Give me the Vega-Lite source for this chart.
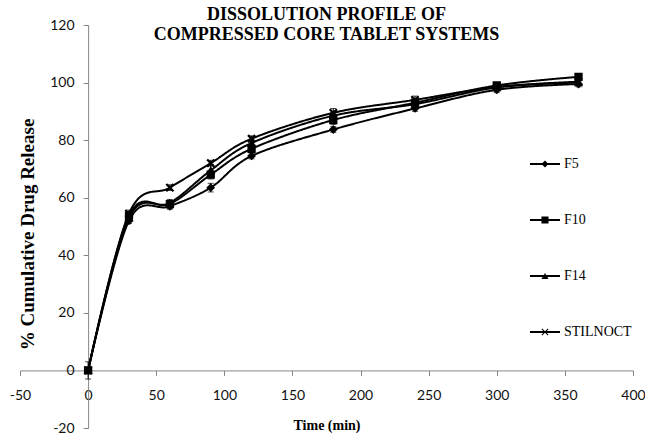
{
  "$schema": "https://vega.github.io/schema/vega-lite/v6.json",
  "width": 613,
  "height": 403,
  "autosize": {"type": "none"},
  "padding": {"left": 20, "top": 25, "right": 12, "bottom": 8},
  "background": "white",
  "config": {
    "view": {"stroke": null},
    "font": "Lato"
  },
  "title": {
    "text": ["DISSOLUTION PROFILE OF", "COMPRESSED CORE TABLET SYSTEMS"],
    "font": "Liberation Serif",
    "fontSize": 18,
    "fontWeight": "bold",
    "color": "black",
    "anchor": "middle",
    "lineHeight": 20,
    "offset": -26
  },
  "data": {
    "values": [
      {"time": 0, "series": "F5", "release": 0, "sd": 1.0},
      {"time": 30, "series": "F5", "release": 52.0, "sd": 1.0},
      {"time": 60, "series": "F5", "release": 57.0, "sd": 1.0},
      {"time": 90, "series": "F5", "release": 63.5, "sd": 1.5},
      {"time": 120, "series": "F5", "release": 74.5, "sd": 1.0},
      {"time": 180, "series": "F5", "release": 83.7, "sd": 1.0},
      {"time": 240, "series": "F5", "release": 91.0, "sd": 1.0},
      {"time": 300, "series": "F5", "release": 97.5, "sd": 1.0},
      {"time": 360, "series": "F5", "release": 99.5, "sd": 1.0},
      {"time": 0, "series": "F10", "release": 0, "sd": 0.5},
      {"time": 30, "series": "F10", "release": 53.8, "sd": 1.2},
      {"time": 60, "series": "F10", "release": 57.8, "sd": 1.5},
      {"time": 90, "series": "F10", "release": 68.0, "sd": 1.5},
      {"time": 120, "series": "F10", "release": 77.0, "sd": 1.0},
      {"time": 180, "series": "F10", "release": 87.0, "sd": 1.5},
      {"time": 240, "series": "F10", "release": 93.0, "sd": 1.0},
      {"time": 300, "series": "F10", "release": 99.0, "sd": 0.8},
      {"time": 360, "series": "F10", "release": 102.0, "sd": 1.0},
      {"time": 0, "series": "F14", "release": 0, "sd": 0.5},
      {"time": 30, "series": "F14", "release": 53.0, "sd": 1.0},
      {"time": 60, "series": "F14", "release": 58.2, "sd": 1.0},
      {"time": 90, "series": "F14", "release": 69.5, "sd": 2.0},
      {"time": 120, "series": "F14", "release": 79.0, "sd": 1.2},
      {"time": 180, "series": "F14", "release": 88.5, "sd": 1.0},
      {"time": 240, "series": "F14", "release": 92.5, "sd": 1.0},
      {"time": 300, "series": "F14", "release": 98.3, "sd": 1.0},
      {"time": 360, "series": "F14", "release": 100.0, "sd": 1.0},
      {"time": 0, "series": "STILNOCT", "release": 0, "sd": 3.0},
      {"time": 30, "series": "STILNOCT", "release": 54.5, "sd": 1.2},
      {"time": 60, "series": "STILNOCT", "release": 63.5, "sd": 1.0},
      {"time": 90, "series": "STILNOCT", "release": 72.0, "sd": 1.0},
      {"time": 120, "series": "STILNOCT", "release": 80.5, "sd": 1.0},
      {"time": 180, "series": "STILNOCT", "release": 89.5, "sd": 1.5},
      {"time": 240, "series": "STILNOCT", "release": 94.0, "sd": 1.3},
      {"time": 300, "series": "STILNOCT", "release": 98.5, "sd": 1.0},
      {"time": 360, "series": "STILNOCT", "release": 100.3, "sd": 0.8}
    ]
  },
  "encoding": {
    "x": {
      "field": "time",
      "type": "quantitative",
      "scale": {"domain": [-50, 400], "nice": false, "zero": false},
      "axis": {
        "title": "Time (min)",
        "values": [-50, 0, 50, 100, 150, 200, 250, 300, 350, 400],
        "labelExpr": "datum.value < 0 ? '-' + abs(datum.value) : '' + datum.value",
        "offset": {"expr": "scale('y', 0) - height"},
        "grid": false,
        "domainColor": "#868686",
        "tickColor": "#868686",
        "tickSize": 5,
        "labelFont": "Lato",
        "labelFontSize": 14,
        "labelColor": "#111111",
        "labelPadding": 13,
        "labelFlush": false,
        "labelOverlap": false,
        "titleFont": "Liberation Serif",
        "titleFontSize": 14,
        "titleFontWeight": "bold",
        "titleColor": "black",
        "titlePadding": 16
      }
    },
    "y": {
      "field": "release",
      "type": "quantitative",
      "scale": {"domain": [-20, 120], "nice": false, "zero": false},
      "axis": {
        "title": "% Cumulative Drug Release",
        "values": [-20, 0, 20, 40, 60, 80, 100, 120],
        "labelExpr": "datum.value < 0 ? '-' + abs(datum.value) : '' + datum.value",
        "offset": {"expr": "-scale('x', 0)"},
        "grid": false,
        "domainColor": "#868686",
        "tickColor": "#868686",
        "tickSize": 5,
        "labelFont": "Lato",
        "labelFontSize": 14,
        "labelColor": "#111111",
        "labelPadding": 9,
        "labelFlush": false,
        "labelOverlap": false,
        "titleFont": "Liberation Serif",
        "titleFontSize": 19,
        "titleFontWeight": "bold",
        "titleColor": "black",
        "titlePadding": 12,
        "titleY": 209
      }
    }
  },
  "layer": [
    {
      "mark": {"type": "errorbar", "ticks": {"size": 6, "color": "black"}, "rule": {"color": "black", "strokeWidth": 1}, "color": "black"},
      "encoding": {
        "yError": {"field": "sd"},
        "detail": {"field": "series"}
      }
    },
    {
      "mark": {"type": "line", "interpolate": "cardinal", "color": "black", "strokeWidth": 2},
      "encoding": {
        "strokeDash": {
          "field": "series",
          "type": "nominal",
          "scale": {
            "domain": ["F5", "F10", "F14", "STILNOCT"],
            "range": [[1, 0], [1, 0], [1, 0], [1, 0]]
          },
          "legend": {
            "title": null,
            "orient": "none",
            "legendX": 509,
            "legendY": 124,
            "padding": 0,
            "rowPadding": 26,
            "clipHeight": 30,
            "labelFont": "Liberation Serif",
            "labelFontSize": 14,
            "labelColor": "black",
            "labelOffset": 3,
            "symbolType": "stroke",
            "symbolSize": 900,
            "symbolStrokeColor": "black",
            "symbolStrokeWidth": 2
          }
        }
      }
    },
    {
      "mark": {"type": "point", "filled": true, "color": "black", "stroke": "black", "strokeWidth": 1.2, "size": 50, "opacity": 1},
      "encoding": {
        "shape": {
          "field": "series",
          "type": "nominal",
          "sort": ["F5", "F10", "F14", "STILNOCT"],
          "scale": {
            "range": ["diamond", "square", "triangle-up", "M-1,-0.8L-0.8,-1L0,-0.2L0.8,-1L1,-0.8L0.2,0L1,0.8L0.8,1L0,0.2L-0.8,1L-1,0.8L-0.2,0Z"]
          },
          "legend": {
            "title": null,
            "orient": "none",
            "legendX": 520.5,
            "legendY": 124,
            "padding": 0,
            "rowPadding": 26,
            "clipHeight": 30,
            "labelExpr": "''",
            "labelFontSize": 1,
            "labelOffset": 0,
            "symbolSize": 50,
            "symbolFillColor": "black",
            "symbolStrokeColor": "black",
            "symbolStrokeWidth": 1.2,
            "symbolOpacity": 1
          }
        }
      }
    }
  ]
}
